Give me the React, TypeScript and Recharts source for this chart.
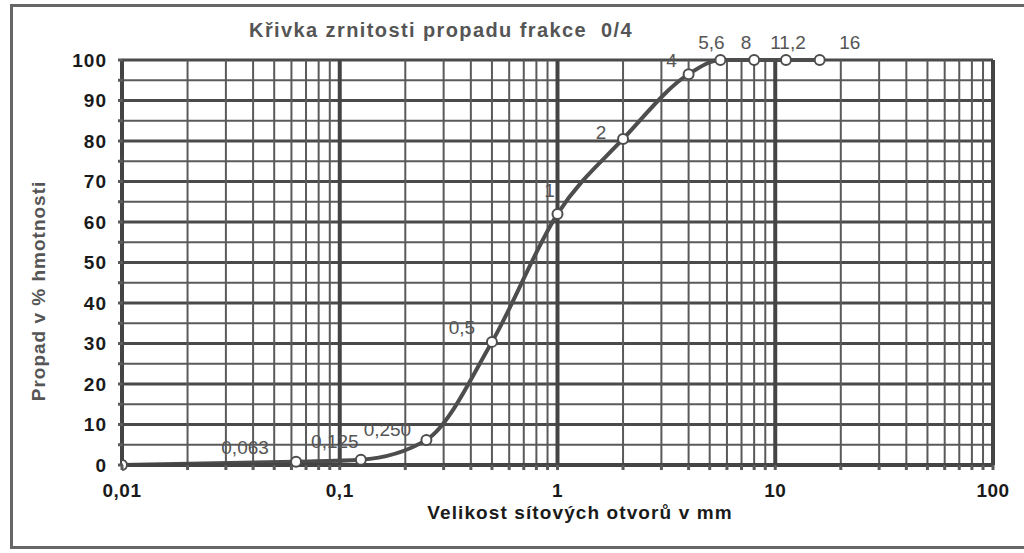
import React from 'react';
import {
  LineChart,
  Line,
  XAxis,
  YAxis,
  ReferenceLine,
  LabelList,
} from 'recharts';

// sieve sizes (mm) and passing (%)
const sieveSizes = [0.01, 0.063, 0.125, 0.25, 0.5, 1, 2, 4, 5.6, 8, 11.2, 16];
const passing = [0, 0.8, 1.3, 6.2, 30.4, 62, 80.5, 96.5, 100, 100, 100, 100];
const pointLabels = ['', '0,063', '0,125', '0,250', '0,5', '1', '2', '4', '5,6', '8', '11,2', '16'];

const decadeTicks = [0.01, 0.1, 1, 10, 100];
const gridMultipliers = [2, 3, 4, 5, 6, 7, 8, 9];
const yTicks = [0, 5, 10, 15, 20, 25, 30, 35, 40, 45, 50, 55, 60, 65, 70, 75, 80, 85, 90, 95, 100];

// label placement relative to its point (px)
const labelOffsets: [number, number][] = [
  [0, 0], [-51, -14], [-26, -18], [-39, -10], [-30, -14], [-8, -23],
  [-22, -6], [-17, -14], [-9, -18], [-8, -18], [2, -18], [30, -18],
];

const data = sieveSizes.map((s, i) => ({ size: s, passing: passing[i], label: pointLabels[i], idx: i }));

const minorTicks: number[] = [];
decadeTicks.slice(0, -1).forEach((d) => {
  minorTicks.push(d);
  gridMultipliers.forEach((m) => minorTicks.push(+(d * m).toPrecision(3)));
});
minorTicks.push(100);

const GRID = '#5a5a5a';
const FONT = '"Liberation Sans", Arial, sans-serif';

const fmt = (v: number) => String(v).replace('.', ',');

const XTick = (props: any) => {
  const { x, y, payload } = props;
  const isDecade = decadeTicks.includes(payload.value);
  return (
    <g>
      <line x1={x} x2={x} y1={y - 8} y2={y - 3} stroke={GRID} strokeWidth={3} />
      {isDecade && (
        <text x={x} y={y + 17} textAnchor="middle" dominantBaseline="central"
          style={{ fontFamily: FONT, fontSize: 19, fontWeight: 700, fill: '#1a1a1a', letterSpacing: 0.5 }}>
          {fmt(payload.value)}
        </text>
      )}
    </g>
  );
};

const YTick = (props: any) => {
  const { x, y, payload } = props;
  const isMajor = payload.value % 10 === 0;
  return (
    <g>
      <line x1={x + 4} x2={x + 9} y1={y} y2={y} stroke={GRID} strokeWidth={3} />
      {isMajor && (
        <text x={x - 7} y={y} textAnchor="end" dominantBaseline="central"
          style={{ fontFamily: FONT, fontSize: 19, fontWeight: 700, fill: '#1a1a1a', letterSpacing: 1 }}>
          {payload.value}
        </text>
      )}
    </g>
  );
};

const PointLabel = (props: any) => {
  const { x, y, value, index } = props;
  if (!value) return null;
  const [dx, dy] = labelOffsets[index];
  return (
    <text x={x + dx} y={y + dy} textAnchor="middle" dominantBaseline="central"
      style={{ fontFamily: FONT, fontSize: 19, fill: '#555' }}>
      {value}
    </text>
  );
};

export default function App() {
  return (
    <div style={{ position: 'absolute', left: 0, top: 0, width: 1024, height: 553, background: '#fff', overflow: 'hidden' }}>
      <div style={{ position: 'absolute', left: 10, top: 4, width: 1030, height: 545, border: '3px solid #666', boxSizing: 'border-box' }} />
      <div style={{ position: 'absolute', left: 0, width: 882, top: 19, textAlign: 'center', fontFamily: FONT, fontSize: 20, fontWeight: 700, color: '#555', whiteSpace: 'pre', letterSpacing: 1.4 }}>
        {'Křivka zrnitosti propadu frakce  0/4'}
      </div>
      <div style={{ position: 'absolute', left: 0, top: 502, width: 1160, textAlign: 'center', fontFamily: FONT, fontSize: 19, fontWeight: 700, color: '#1a1a1a', letterSpacing: 1.1 }}>
        Velikost sítových otvorů v mm
      </div>
      <div style={{ position: 'absolute', left: 39, top: 291, transform: 'translate(-50%, -50%) rotate(-90deg)', whiteSpace: 'nowrap', fontFamily: FONT, fontSize: 19, fontWeight: 700, color: '#555', letterSpacing: 1 }}>
        Propad v % hmotnosti
      </div>
      <LineChart width={1024} height={553} data={data} margin={{ top: 60, right: 31, left: 62, bottom: 58 }}
        style={{ position: 'absolute', left: 0, top: 0 }}>
        <XAxis dataKey="size" type="number" scale="log" domain={[0.01, 100]} allowDataOverflow
          ticks={minorTicks} interval={0} tick={<XTick />} tickLine={false}
          axisLine={{ stroke: '#444', strokeWidth: 4 }} height={30} />
        <YAxis type="number" domain={[0, 100]} ticks={yTicks} interval={0} tick={<YTick />} tickLine={false}
          axisLine={{ stroke: '#444', strokeWidth: 4 }} width={60} />
        {yTicks.filter((v) => v > 0).map((v) => (
          <ReferenceLine key={`h-${v}`} y={v} stroke={v % 10 === 0 ? '#4a4a4a' : GRID}
            strokeWidth={v % 10 === 0 || v === 100 ? 3 : 2} />
        ))}
        {minorTicks.filter((v) => v > 0.01).map((v) => (
          <ReferenceLine key={`v-${v}`} x={v} stroke={decadeTicks.includes(v) ? '#444' : GRID}
            strokeWidth={decadeTicks.includes(v) ? 4 : 2} />
        ))}
        <Line type="monotone" dataKey="passing" stroke="#4d4d4d" strokeWidth={4}
          dot={{ r: 5, fill: '#fff', stroke: '#4d4d4d', strokeWidth: 2 }}
          isAnimationActive={false}>
          <LabelList dataKey="label" content={<PointLabel />} />
        </Line>
      </LineChart>
    </div>
  );
}
